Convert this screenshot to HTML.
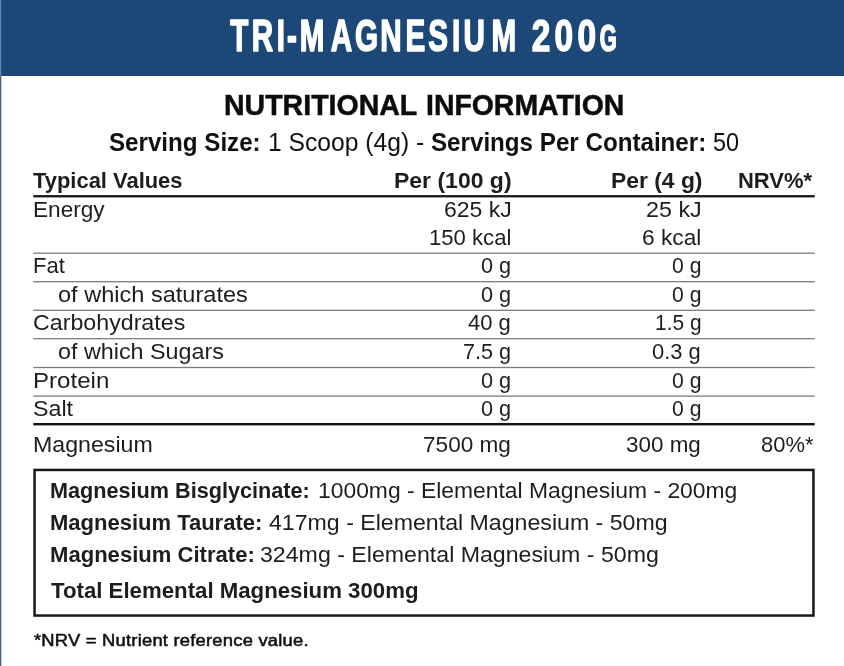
<!DOCTYPE html>
<html lang="en"><head><meta charset="utf-8"><title>Tri-Magnesium 200g – Nutritional Information</title>
<style>
html,body{margin:0;padding:0;background:#fff}
body{width:844px;height:666px;position:relative;overflow:hidden;font-family:"Liberation Sans", sans-serif;}
.hdr{position:absolute;left:0;top:0;width:844px;height:76px;background:#1c4878}
.edge{position:absolute;left:0;top:76px;width:1px;height:590px;background:#46607c;box-shadow:1px 0 0 #c3ced9}
.edge2{position:absolute;left:0;top:0;width:1px;height:76px;background:#5a85b0;box-shadow:1px 0 0 #2c5585}
.t{position:absolute;white-space:pre;line-height:0;height:60px;transform-origin:0 50%;font-family:"Liberation Sans", sans-serif}
.t i{display:inline-block;width:0;height:60px;vertical-align:baseline}
.lines{position:absolute;left:0;top:0}
.ttl{position:absolute;left:0;top:0;display:block}
</style></head><body>
<header class="hdr"><svg class="ttl" width="844" height="76" viewBox="0 0 844 76" role="heading" aria-level="1"><text transform="translate(0,51.3) scale(0.6612,1)" x="348.19 380.82 418.71 433.93 453.51 500.36 536.90 575.15 613.10 647.80 683.46 701.14 743.21" y="0" font-size="44.77" font-family="Liberation Sans, sans-serif" font-weight="700" fill="#fff" stroke="#fff" stroke-width="1.4" stroke-linejoin="round" vector-effect="non-scaling-stroke">TRI-MAGNESIUM</text> <text transform="translate(0,51.3) scale(0.7461,1)" x="712.58 743.08 774.04" y="0" font-size="44.77" font-family="Liberation Sans, sans-serif" font-weight="700" fill="#fff" stroke="#fff" stroke-width="1.4" stroke-linejoin="round" vector-effect="non-scaling-stroke">200</text> <text transform="translate(0,51.3) scale(0.6030,1)" x="994.55" y="0" font-size="36.34" font-family="Liberation Sans, sans-serif" font-weight="700" fill="#fff" stroke="#fff" stroke-width="1.4" stroke-linejoin="round" vector-effect="non-scaling-stroke">G</text></svg></header><div class="edge"></div><div class="edge2"></div>
<main>
<svg class="lines" width="844" height="666" viewBox="0 0 844 666">
<rect x="33.3" y="195.10" width="781.4" height="2.30" fill="#161616"/>
<rect x="33.3" y="252.55" width="781.4" height="1.30" fill="#7c7c7c"/>
<rect x="33.3" y="281.05" width="781.4" height="1.30" fill="#7c7c7c"/>
<rect x="33.3" y="309.65" width="781.4" height="1.30" fill="#7c7c7c"/>
<rect x="33.3" y="338.05" width="781.4" height="1.30" fill="#7c7c7c"/>
<rect x="33.3" y="366.85" width="781.4" height="1.30" fill="#7c7c7c"/>
<rect x="33.3" y="395.45" width="781.4" height="1.30" fill="#7c7c7c"/>
<rect x="33.3" y="423.00" width="781.4" height="2.40" fill="#161616"/>
<rect x="34.55" y="469.95" width="778.90" height="145.60" fill="none" stroke="#161616" stroke-width="2.5"/>
</svg>
<section class="heading">
<div class="row h2-row">
<div class="t h2" style="left:223.73px;top:55.20px;font-size:29.57px;font-weight:700;color:#0c0c0c;transform:scaleX(0.9647);-webkit-text-stroke:0.50px #0c0c0c"><i></i>NUTRITIONAL</div>
<div class="t h2" style="left:425.94px;top:55.20px;font-size:29.57px;font-weight:700;color:#0c0c0c;transform:scaleX(0.9611);-webkit-text-stroke:0.50px #0c0c0c"><i></i>INFORMATION</div>
</div>
</section>
<section class="serving">
<div class="row serv-row">
<div class="t serv" style="left:108.82px;top:91.00px;font-size:25.00px;font-weight:700;color:#101010;transform:scaleX(0.9658)"><i></i>Serving Size:</div>
<div class="t serv" style="left:268.07px;top:91.00px;font-size:25.36px;font-weight:400;color:#101010;transform:scaleX(0.9725)"><i></i>1 Scoop (4g) -</div>
<div class="t serv" style="left:431.12px;top:91.00px;font-size:25.00px;font-weight:700;color:#101010;transform:scaleX(0.9664)"><i></i>Servings Per Container:</div>
<div class="t serv" style="left:713.06px;top:91.00px;font-size:25.36px;font-weight:400;color:#101010;transform:scaleX(0.9247)"><i></i>50</div>
</div>
</section>
<section class="table">
<div class="row th-row">
<div class="t th" style="left:33.48px;top:128.00px;font-size:22.00px;font-weight:700;color:#1d1d1d;transform:scaleX(0.9967)"><i></i>Typical Values</div>
<div class="t th" style="left:394.02px;top:128.00px;font-size:22.00px;font-weight:700;color:#1d1d1d;transform:scaleX(1.0451)"><i></i>Per (100 g)</div>
<div class="t th" style="left:610.93px;top:128.00px;font-size:22.00px;font-weight:700;color:#1d1d1d;transform:scaleX(1.0390)"><i></i>Per (4 g)</div>
<div class="t th" style="left:738.18px;top:128.00px;font-size:22.00px;font-weight:700;color:#1d1d1d;transform:scaleX(0.9976)"><i></i>NRV%*</div>
</div>
<div class="row td-row">
<div class="t td" style="left:33.09px;top:157.00px;font-size:22.17px;font-weight:400;color:#1d1d1d;transform:scaleX(1.0207)"><i></i>Energy</div>
<div class="t td num" style="left:443.65px;top:157.00px;font-size:21.59px;font-weight:400;color:#1d1d1d;transform:scaleX(1.0650)"><i></i>625 kJ</div>
<div class="t td num" style="left:645.73px;top:157.00px;font-size:21.59px;font-weight:400;color:#1d1d1d;transform:scaleX(1.0812)"><i></i>25 kJ</div>
<div class="t td num" style="left:428.75px;top:185.00px;font-size:21.59px;font-weight:400;color:#1d1d1d;transform:scaleX(1.0248)"><i></i>150 kcal</div>
<div class="t td num" style="left:641.86px;top:185.00px;font-size:21.59px;font-weight:400;color:#1d1d1d;transform:scaleX(1.0539)"><i></i>6 kcal</div>
</div>
<div class="row td-row">
<div class="t td" style="left:33.14px;top:213.30px;font-size:22.17px;font-weight:400;color:#1d1d1d;transform:scaleX(0.9930)"><i></i>Fat</div>
<div class="t td num" style="left:480.85px;top:213.30px;font-size:21.59px;font-weight:400;color:#1d1d1d;transform:scaleX(1.0050)"><i></i>0 g</div>
<div class="t td num" style="left:671.67px;top:213.30px;font-size:21.59px;font-weight:400;color:#1d1d1d;transform:scaleX(0.9802)"><i></i>0 g</div>
</div>
<div class="row td-row">
<div class="t td" style="left:58.26px;top:242.00px;font-size:22.17px;font-weight:400;color:#1d1d1d;transform:scaleX(1.0629)"><i></i>of which saturates</div>
<div class="t td num" style="left:480.85px;top:242.00px;font-size:21.59px;font-weight:400;color:#1d1d1d;transform:scaleX(1.0050)"><i></i>0 g</div>
<div class="t td num" style="left:671.67px;top:242.00px;font-size:21.59px;font-weight:400;color:#1d1d1d;transform:scaleX(0.9802)"><i></i>0 g</div>
</div>
<div class="row td-row">
<div class="t td" style="left:32.84px;top:270.30px;font-size:22.17px;font-weight:400;color:#1d1d1d;transform:scaleX(1.0476)"><i></i>Carbohydrates</div>
<div class="t td num" style="left:468.16px;top:270.30px;font-size:21.59px;font-weight:400;color:#1d1d1d;transform:scaleX(1.0202)"><i></i>40 g</div>
<div class="t td num" style="left:654.54px;top:270.30px;font-size:21.59px;font-weight:400;color:#1d1d1d;transform:scaleX(0.9690)"><i></i>1.5 g</div>
</div>
<div class="row td-row">
<div class="t td" style="left:58.27px;top:299.00px;font-size:22.17px;font-weight:400;color:#1d1d1d;transform:scaleX(1.0518)"><i></i>of which Sugars</div>
<div class="t td num" style="left:462.92px;top:299.00px;font-size:21.59px;font-weight:400;color:#1d1d1d;transform:scaleX(1.0014)"><i></i>7.5 g</div>
<div class="t td num" style="left:652.34px;top:299.00px;font-size:21.59px;font-weight:400;color:#1d1d1d;transform:scaleX(1.0159)"><i></i>0.3 g</div>
</div>
<div class="row td-row">
<div class="t td" style="left:32.97px;top:327.60px;font-size:22.17px;font-weight:400;color:#1d1d1d;transform:scaleX(1.0872)"><i></i>Protein</div>
<div class="t td num" style="left:480.85px;top:327.60px;font-size:21.59px;font-weight:400;color:#1d1d1d;transform:scaleX(1.0050)"><i></i>0 g</div>
<div class="t td num" style="left:671.67px;top:327.60px;font-size:21.59px;font-weight:400;color:#1d1d1d;transform:scaleX(0.9802)"><i></i>0 g</div>
</div>
<div class="row td-row">
<div class="t td" style="left:33.37px;top:356.00px;font-size:22.17px;font-weight:400;color:#1d1d1d;transform:scaleX(1.0490)"><i></i>Salt</div>
<div class="t td num" style="left:480.85px;top:356.00px;font-size:21.59px;font-weight:400;color:#1d1d1d;transform:scaleX(1.0050)"><i></i>0 g</div>
<div class="t td num" style="left:671.67px;top:356.00px;font-size:21.59px;font-weight:400;color:#1d1d1d;transform:scaleX(0.9802)"><i></i>0 g</div>
</div>
<div class="row td-row">
<div class="t td" style="left:33.05px;top:392.00px;font-size:22.17px;font-weight:400;color:#1d1d1d;transform:scaleX(1.0454)"><i></i>Magnesium</div>
<div class="t td num" style="left:423.07px;top:392.00px;font-size:21.59px;font-weight:400;color:#1d1d1d;transform:scaleX(1.0472)"><i></i>7500 mg</div>
<div class="t td num" style="left:626.33px;top:392.00px;font-size:21.59px;font-weight:400;color:#1d1d1d;transform:scaleX(1.0390)"><i></i>300 mg</div>
<div class="t td num" style="left:761.12px;top:392.00px;font-size:21.59px;font-weight:400;color:#1d1d1d;transform:scaleX(1.0166)"><i></i>80%*</div>
</div>
</section>
<section class="ingredients">
<div class="row bx-row">
<div class="t bx" style="left:49.80px;top:437.80px;font-size:21.86px;font-weight:700;color:#1d1d1d;transform:scaleX(0.9903)"><i></i>Magnesium Bisglycinate:</div>
<div class="t bx" style="left:317.80px;top:437.80px;font-size:21.88px;font-weight:400;color:#1d1d1d;transform:scaleX(1.0450)"><i></i>1000mg - Elemental Magnesium - 200mg</div>
</div>
<div class="row bx-row">
<div class="t bx" style="left:49.78px;top:470.10px;font-size:21.86px;font-weight:700;color:#1d1d1d;transform:scaleX(1.0064)"><i></i>Magnesium Taurate:</div>
<div class="t bx" style="left:268.54px;top:470.10px;font-size:21.88px;font-weight:400;color:#1d1d1d;transform:scaleX(1.0576)"><i></i>417mg - Elemental Magnesium - 50mg</div>
</div>
<div class="row bx-row">
<div class="t bx" style="left:49.78px;top:502.00px;font-size:21.86px;font-weight:700;color:#1d1d1d;transform:scaleX(1.0097)"><i></i>Magnesium Citrate:</div>
<div class="t bx" style="left:260.31px;top:502.00px;font-size:21.88px;font-weight:400;color:#1d1d1d;transform:scaleX(1.0582)"><i></i>324mg - Elemental Magnesium - 50mg</div>
</div>
<div class="row bx-row">
<div class="t bx" style="left:50.88px;top:538.00px;font-size:21.86px;font-weight:700;color:#1d1d1d;transform:scaleX(1.0164)"><i></i>Total Elemental Magnesium 300mg</div>
</div>
</section>
<section class="footnote">
<div class="row fn-row">
<div class="t fn" style="left:33.91px;top:586.40px;font-size:17.32px;font-weight:400;color:#111;transform:scaleX(1.0610);letter-spacing:0.0120em;-webkit-text-stroke:0.55px #111"><i></i>*NRV = Nutrient reference value.</div>
</div></section>
</main>
</body></html>
